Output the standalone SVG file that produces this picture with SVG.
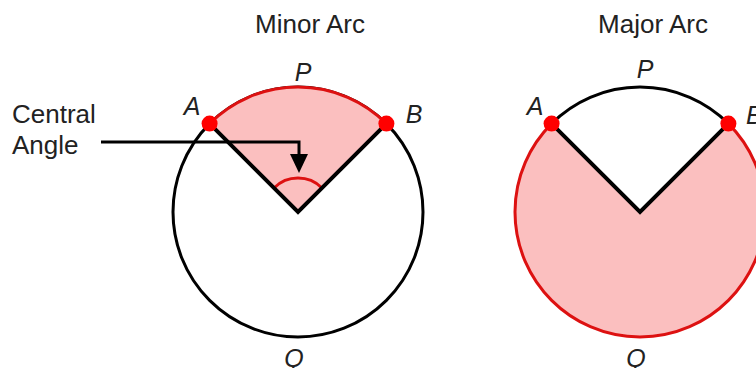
<svg xmlns="http://www.w3.org/2000/svg" width="756" height="368" viewBox="0 0 756 368">
<style>
.t{font-family:"Liberation Sans",Arial,sans-serif;font-size:26px;fill:#222}
.l{font-family:"Liberation Sans",Arial,sans-serif;font-size:25px;font-style:italic;fill:#222}
.blk{fill:none;stroke:#000;stroke-width:3}
.red{fill:none;stroke:#d11;stroke-width:3}
.pink{fill:#fbbfbf}
.ray{fill:none;stroke:#000;stroke-width:4;stroke-linejoin:miter}
.dot{fill:#f00}
</style>
<rect width="756" height="368" fill="#fff"/>
<g id="minor">
<text class="t" x="310" y="33" text-anchor="middle">Minor Arc</text>
<circle class="blk" cx="298" cy="212" r="125"/>
<path class="pink" d="M298 212 L209.6 123.6 A125 125 0 0 1 386.4 123.6 Z"/>
<path class="red" d="M209.6 123.6 A125 125 0 0 1 386.4 123.6"/>
<path class="red" d="M274 188 A34 34 0 0 1 322 188"/>
<path class="ray" d="M209.6 123.6 L298 212 L386.4 123.6"/>
<circle class="dot" cx="209.6" cy="123.6" r="8"/>
<circle class="dot" cx="386.4" cy="123.6" r="8"/>
<text class="l" x="192" y="115" text-anchor="middle">A</text>
<text class="l" x="414" y="123" text-anchor="middle">B</text>
<text class="l" x="303" y="81" text-anchor="middle">P</text>
<text class="l" x="294" y="367" text-anchor="middle">Q</text>
</g>
<g id="major">
<text class="t" x="653" y="33" text-anchor="middle">Major Arc</text>
<path class="pink" d="M640 212 L551.6 123.6 A125 125 0 1 0 728.4 123.6 Z"/>
<path class="red" d="M551.6 123.6 A125 125 0 1 0 728.4 123.6"/>
<path class="blk" d="M551.6 123.6 A125 125 0 0 1 728.4 123.6"/>
<path class="ray" d="M551.6 123.6 L640 212 L728.4 123.6"/>
<circle class="dot" cx="551.6" cy="123.6" r="8"/>
<circle class="dot" cx="728.4" cy="123.6" r="8"/>
<text class="l" x="535" y="115" text-anchor="middle">A</text>
<text class="l" x="746" y="124">B</text>
<text class="l" x="645" y="78" text-anchor="middle">P</text>
<text class="l" x="636" y="367" text-anchor="middle">Q</text>
</g>
<g id="central-angle">
<text class="t" x="12" y="123">Central</text>
<text class="t" x="12" y="154">Angle</text>
</g>
<g id="connectors">
<path d="M101 142 H299 V156" fill="none" stroke="#000" stroke-width="3"/>
<polygon points="290,154 308,154 299,173" fill="#000"/>
</g>
</svg>
